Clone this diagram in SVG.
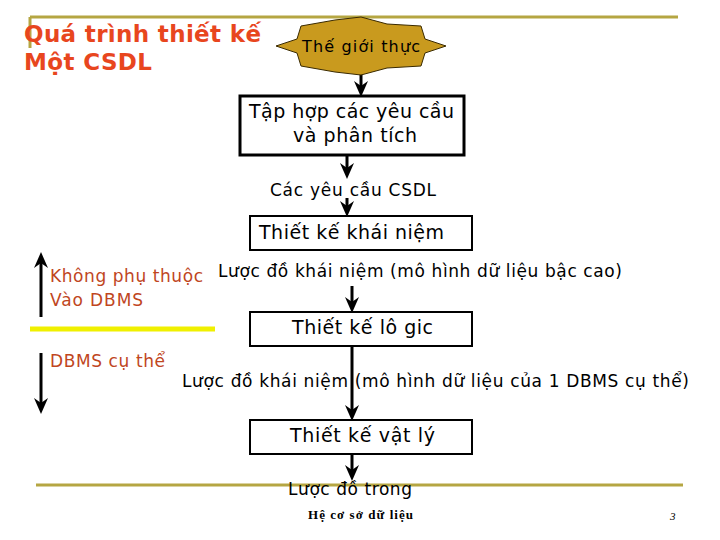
<svg xmlns="http://www.w3.org/2000/svg" width="720" height="540" viewBox="0 0 720 540">
<defs>
<style>
.t{font-family:"DejaVu Sans","Liberation Sans",sans-serif;fill:#000}
.box{fill:#fff;stroke:#000;stroke-width:2}
.rule{stroke:#B5A642;stroke-width:3;fill:none}
.con{stroke:#000;stroke-width:3;fill:none}
.head{fill:#000;stroke:none}
.lbl{font-family:"DejaVu Sans","Liberation Sans",sans-serif;fill:#C0461E;font-size:17px}
</style>
</defs>
<rect width="720" height="540" fill="#fff"/>
<g id="frame">
<line class="rule" x1="30" y1="17" x2="678" y2="17"/>
<line class="rule" x1="30" y1="17" x2="30" y2="48"/>
<line class="rule" x1="36" y1="485" x2="683" y2="485"/>
</g>
<g id="title">
<text x="24" y="42" font-family="DejaVu Sans,Verdana,sans-serif" font-weight="bold" font-size="23" fill="#E8461E" textLength="237">Quá trình thiết kế</text>
<text x="24" y="70" font-family="DejaVu Sans,Verdana,sans-serif" font-weight="bold" font-size="23" fill="#E8461E" textLength="128">Một CSDL</text>
</g>
<g id="connectors">
<line class="con" x1="361" y1="72" x2="361" y2="86"/>
<path class="head" d="M354,81 L361,86 L368,81 L361,97 Z"/>
<line class="con" x1="347" y1="156" x2="347" y2="168"/>
<path class="head" d="M340,163 L347,168 L354,163 L347,179 Z"/>
<line class="con" x1="347" y1="198" x2="347" y2="206"/>
<path class="head" d="M340,201 L347,206 L354,201 L347,217 Z"/>
<line class="con" x1="352" y1="286" x2="352" y2="302"/>
<path class="head" d="M345,297 L352,302 L359,297 L352,313 Z"/>
<line class="con" x1="352" y1="347" x2="352" y2="410"/>
<path class="head" d="M345,405 L352,410 L359,405 L352,421 Z"/>
<line class="con" x1="352" y1="455" x2="352" y2="470"/>
<path class="head" d="M345,465 L352,470 L359,465 L352,481 Z"/>
<line class="con" x1="41" y1="317" x2="41" y2="262"/>
<path class="head" d="M34,268 L41,263 L48,268 L41,252 Z"/>
<line class="con" x1="41" y1="353" x2="41" y2="403"/>
<path class="head" d="M34,398 L41,403 L48,398 L41,414 Z"/>
<line x1="30" y1="329" x2="215" y2="329" stroke="#F0F000" stroke-width="5"/>
</g>
<g id="n-world">
<polygon points="276,46 297,39 301,26 335,20 361,17 387,24 421,26 425,39 446,46 425,53 421,66 387,68 361,75 335,72 301,66 297,53" fill="#C99A1E" stroke="#3a2a00" stroke-width="1"/>
<text class="t" x="302" y="52" font-size="16" textLength="118" font-family="Liberation Sans Narrow,DejaVu Sans Condensed,sans-serif">Thế giới thực</text>
</g>
<g id="n-requirements">
<rect x="240" y="96" width="224" height="59" fill="#fff" stroke="#000" stroke-width="3"/>
<text class="t" x="249" y="118" font-size="19" textLength="205">Tập hợp các yêu cầu</text>
<text class="t" x="293" y="142" font-size="19" textLength="124">và phân tích</text>
</g>
<g id="n-req-label">
<text class="t" x="270" y="196" font-size="17" textLength="166">Các yêu cầu CSDL</text>
</g>
<g id="n-conceptual">
<rect class="box" x="250" y="216" width="222" height="34"/>
<text class="t" x="259" y="239" font-size="19" textLength="185">Thiết kế khái niệm</text>
</g>
<g id="n-schema1">
<text class="t" x="218" y="277" font-size="17" textLength="404">Lược đồ khái niệm (mô hình dữ liệu bậc cao)</text>
</g>
<g id="n-logical">
<rect class="box" x="250" y="312" width="222" height="34"/>
<text class="t" x="292" y="334" font-size="19" textLength="141">Thiết kế lô gic</text>
</g>
<g id="n-schema2">
<text class="t" x="182" y="387" font-size="17" textLength="507">Lược đồ khái niệm (mô hình dữ liệu của 1 DBMS cụ thể)</text>
</g>
<g id="n-physical">
<rect class="box" x="250" y="420" width="222" height="34"/>
<text class="t" x="290" y="442" font-size="19" textLength="145">Thiết kế vật lý</text>
</g>
<g id="n-internal">
<text class="t" x="288" y="495" font-size="17" textLength="124">Lược đồ trong</text>
</g>
<g id="left-labels">
<text class="lbl" x="50" y="282" textLength="153">Không phụ thuộc</text>
<text class="lbl" x="50" y="306" textLength="93">Vào DBMS</text>
<text class="lbl" x="50" y="367" textLength="115">DBMS cụ thể</text>
</g>
<g id="footer">
<text x="308" y="519" font-family="Liberation Serif,serif" font-size="13" font-weight="bold" textLength="105" fill="#000">Hệ cơ sở dữ liệu</text>
<text x="670" y="520" font-family="Liberation Serif,serif" font-size="11" font-style="italic" fill="#000">3</text>
</g>
</svg>
